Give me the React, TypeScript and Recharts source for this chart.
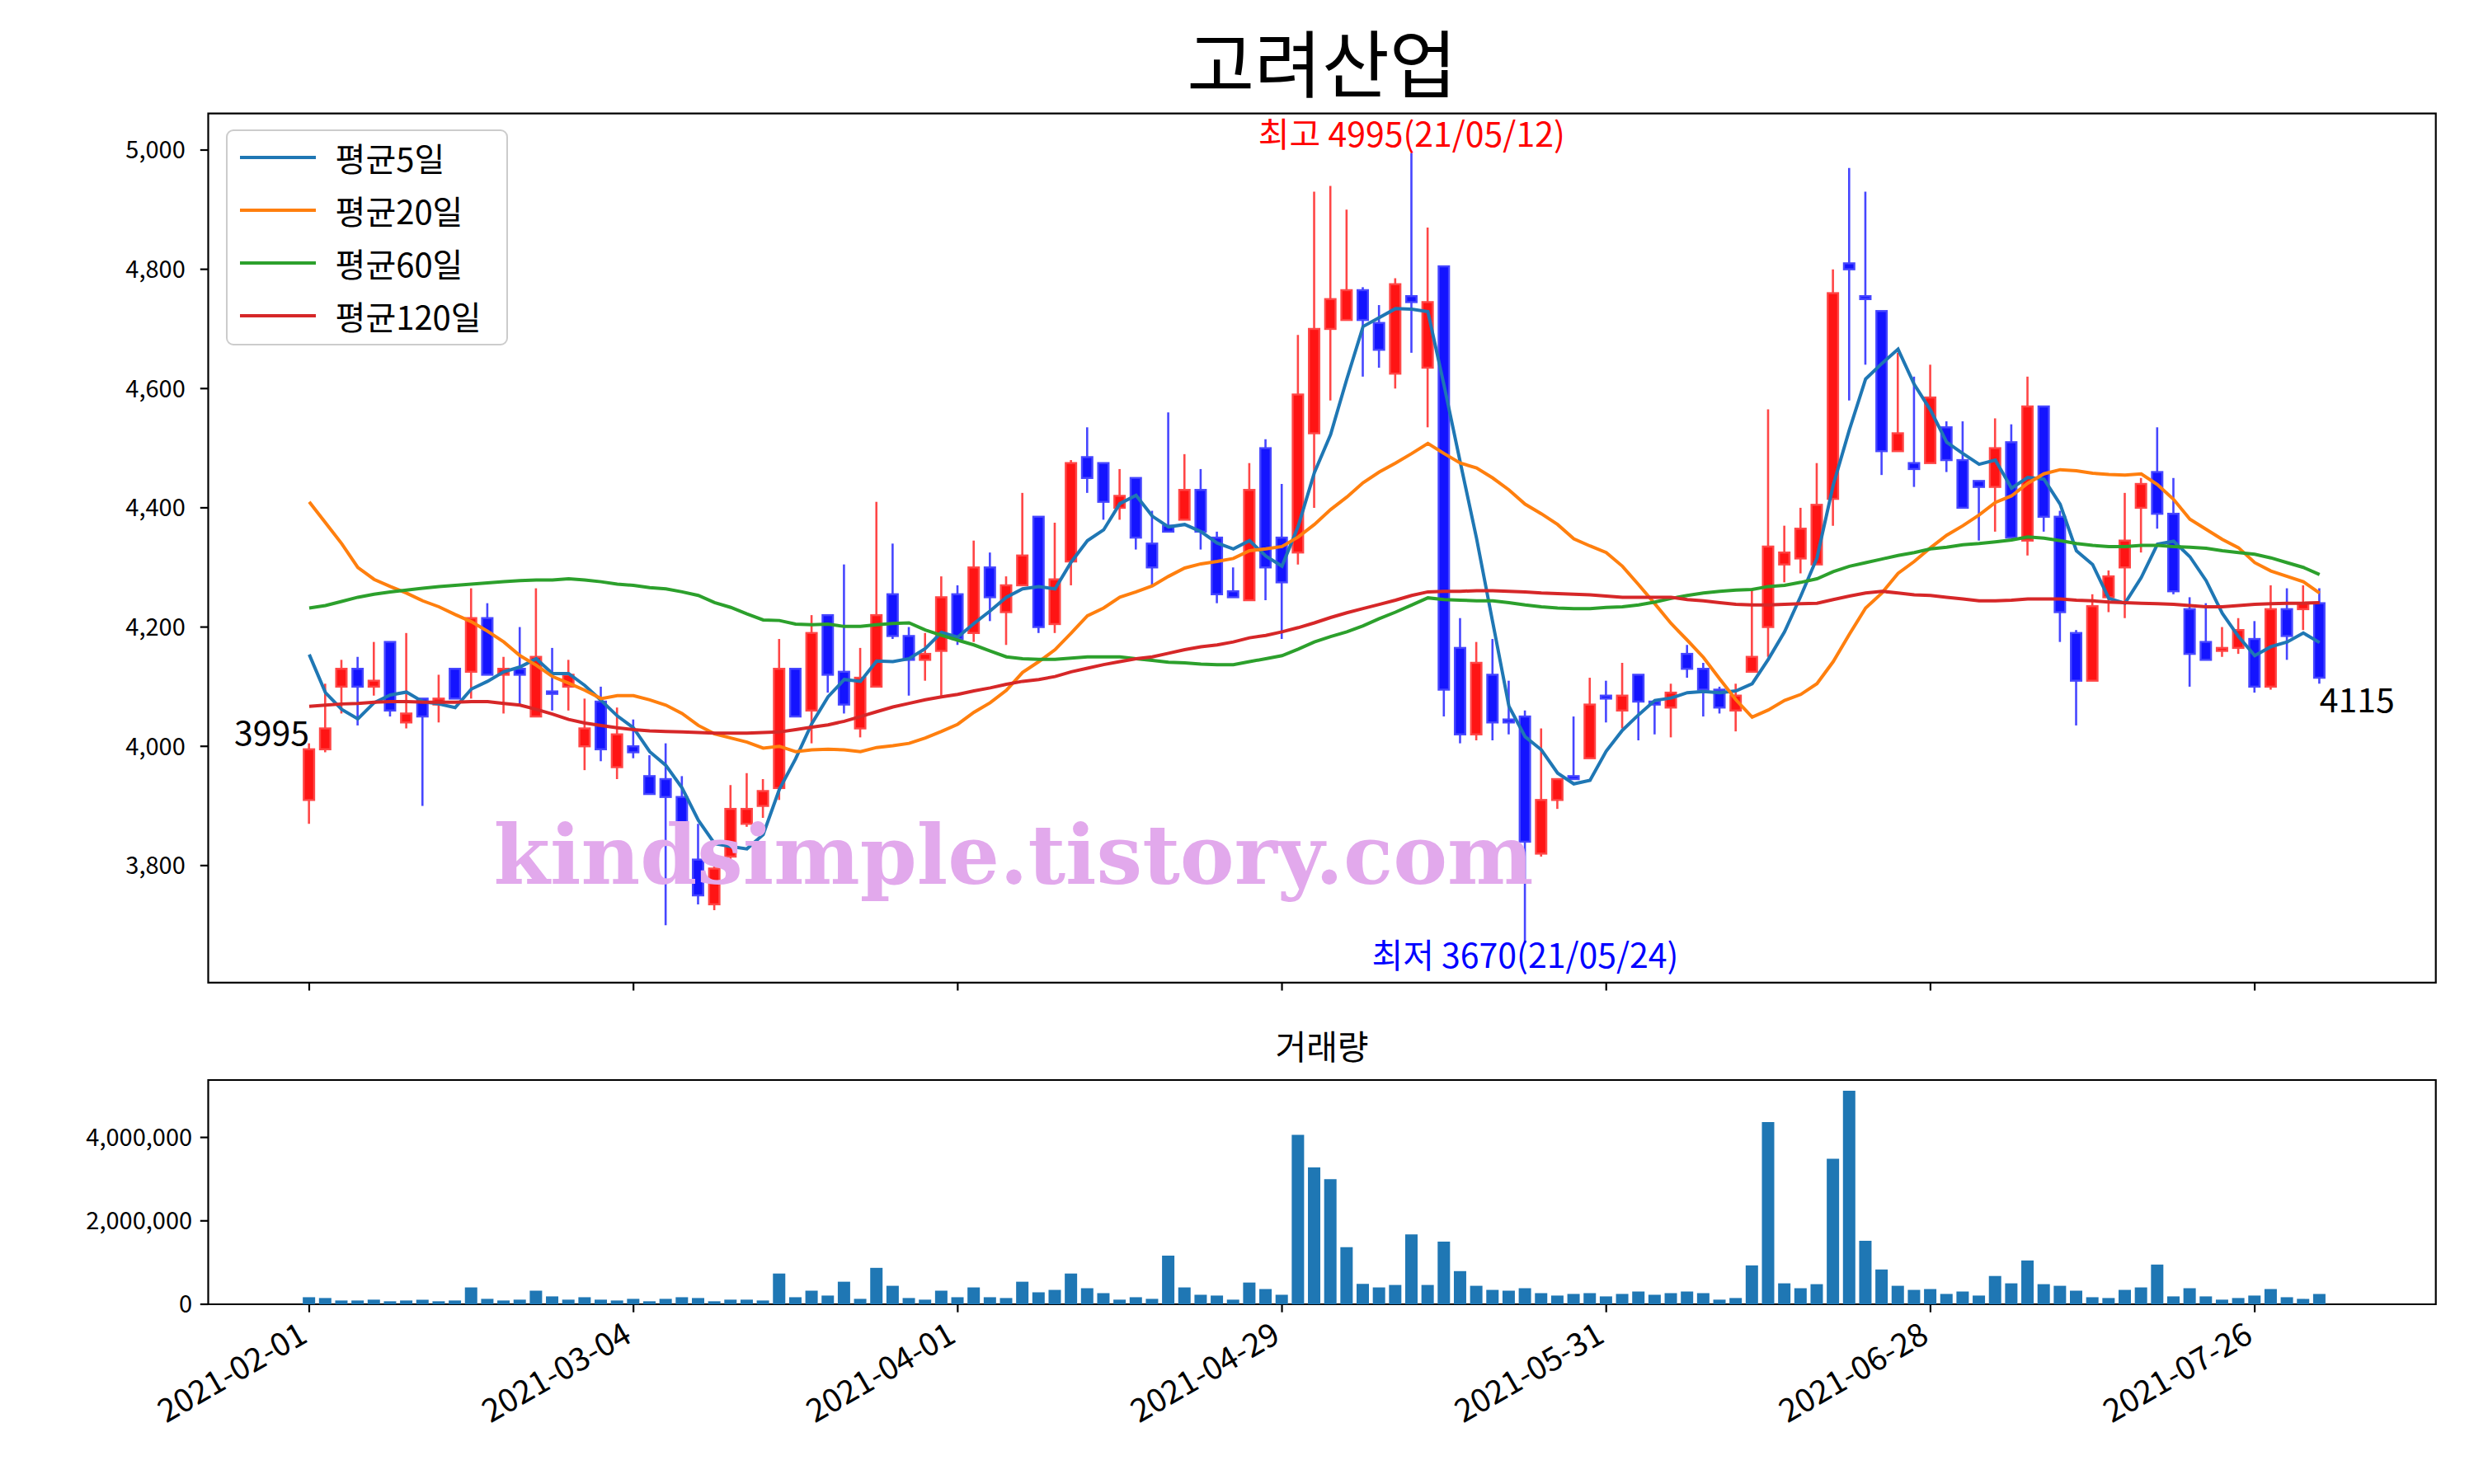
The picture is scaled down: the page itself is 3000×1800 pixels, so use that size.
import React from "react";
import {
  Bar,
  ComposedChart,
  Legend,
  Line,
  ReferenceArea,
  ReferenceDot,
  XAxis,
  YAxis,
} from "recharts";

// daily candles, 2021-02-01 .. 2021-07-30 (trading-day index on the x axis)
const openPrices = [
  3910, 3995, 4100, 4130, 4100, 4175, 4040, 4080, 4070, 4130,
  4125, 4215, 4120, 4130, 4050, 4090, 4100, 4000, 4075, 3965,
  4000, 3950, 3945, 3915, 3810, 3735, 3815, 3870, 3900, 3930,
  4130, 4060, 4220, 4125, 4030, 4100, 4255, 4185, 4145, 4160,
  4255, 4190, 4300, 4225, 4270, 4385, 4205, 4310, 4485, 4475,
  4400, 4450, 4340, 4370, 4380, 4430, 4350, 4260, 4245, 4500,
  4350, 4325, 4525, 4700, 4715, 4765, 4710, 4625, 4755, 4635,
  4805, 4165, 4020, 4120, 4045, 4050, 3820, 3910, 3950, 3980,
  4085, 4060, 4120, 4075, 4065, 4155, 4130, 4095, 4060, 4125,
  4200, 4305, 4315, 4305, 4415, 4810, 4755, 4730, 4495, 4475,
  4475, 4535, 4480, 4445, 4435, 4510, 4345, 4570, 4385, 4190,
  4110, 4250, 4300, 4400, 4460, 4390, 4230, 4175, 4160, 4165,
  4180, 4100, 4230, 4230, 4240,
];
const highPrices = [
  4005, 4105, 4145, 4150, 4175, 4175, 4190, 4080, 4120, 4130,
  4265, 4240, 4150, 4200, 4265, 4165, 4145, 4080, 4100, 4065,
  4045, 3985, 4005, 3950, 3870, 3800, 3935, 3955, 3945, 4180,
  4130, 4220, 4220, 4305, 4165, 4410, 4340, 4200, 4190, 4285,
  4270, 4345, 4325, 4285, 4425, 4385, 4375, 4480, 4535, 4475,
  4465, 4450, 4395, 4560, 4490, 4465, 4360, 4300, 4475, 4515,
  4440, 4690, 4930, 4940, 4900, 4770, 4740, 4785, 4995, 4870,
  4805, 4215, 4175, 4180, 4110, 4060, 4030, 3945, 4050, 4115,
  4110, 4140, 4120, 4075, 4105, 4170, 4140, 4100, 4105, 4265,
  4565, 4370, 4400, 4475, 4800, 4970, 4930, 4730, 4660, 4620,
  4640, 4545, 4545, 4445, 4550, 4540, 4620, 4570, 4395, 4195,
  4255, 4295, 4425, 4450, 4535, 4450, 4250, 4240, 4200, 4215,
  4210, 4270, 4265, 4270, 4265,
];
const lowPrices = [
  3870, 3990, 4055, 4035, 4085, 4050, 4030, 3900, 4040, 4080,
  4080, 4120, 4055, 4070, 4050, 4060, 4060, 3960, 3975, 3945,
  3980, 3920, 3700, 3770, 3735, 3725, 3810, 3865, 3880, 3910,
  4050, 4005, 4090, 4055, 4015, 4100, 4180, 4085, 4110, 4085,
  4170, 4175, 4210, 4170, 4270, 4190, 4190, 4270, 4425, 4380,
  4380, 4330, 4270, 4360, 4380, 4330, 4240, 4250, 4245, 4245,
  4180, 4305, 4400, 4580, 4715, 4620, 4635, 4600, 4660, 4535,
  4050, 4005, 4010, 4010, 4020, 3670, 3815, 3895, 3945, 3980,
  4040, 4030, 4010, 4020, 4015, 4115, 4050, 4055, 4025, 4125,
  4150, 4275, 4290, 4305, 4370, 4580, 4640, 4455, 4495, 4435,
  4475, 4460, 4400, 4345, 4360, 4350, 4320, 4360, 4175, 4035,
  4110, 4225, 4215, 4325, 4365, 4255, 4100, 4145, 4150, 4155,
  4090, 4095, 4145, 4195, 4105,
];
const closePrices = [
  3995, 4030, 4130, 4100, 4110, 4060, 4055, 4050, 4080, 4080,
  4215, 4120, 4130, 4120, 4150, 4090, 4120, 4030, 3995, 4020,
  3990, 3920, 3915, 3805, 3750, 3795, 3895, 3895, 3925, 4130,
  4050, 4190, 4120, 4070, 4115, 4220, 4185, 4145, 4155, 4250,
  4180, 4300, 4250, 4270, 4320, 4200, 4280, 4475, 4450, 4410,
  4420, 4350, 4300, 4360, 4430, 4360, 4255, 4250, 4430, 4300,
  4275, 4590, 4700, 4750, 4765, 4715, 4665, 4775, 4745, 4745,
  4095, 4020, 4140, 4040, 4040, 3840, 3910, 3945, 3945, 4070,
  4080, 4085, 4075, 4070, 4090, 4130, 4095, 4065, 4085, 4150,
  4335, 4325, 4365, 4405, 4760, 4800, 4750, 4495, 4525, 4465,
  4585, 4480, 4400, 4435, 4500, 4350, 4570, 4385, 4225, 4110,
  4235, 4285, 4345, 4440, 4390, 4260, 4155, 4145, 4165, 4195,
  4100, 4230, 4185, 4240, 4115,
];
const volumes = [
  169000, 150000, 91000, 91000, 111000, 72000, 91000, 111000, 72000, 91000,
  404000, 130000, 91000, 111000, 326000, 189000, 111000, 169000, 111000, 91000,
  130000, 72000, 130000, 169000, 150000, 72000, 111000, 111000, 91000, 737000,
  169000, 326000, 209000, 541000, 130000, 873000, 443000, 150000, 111000, 326000,
  169000, 404000, 169000, 150000, 541000, 287000, 345000, 737000, 385000, 267000,
  111000, 169000, 130000, 1167000, 404000, 228000, 209000, 111000, 521000, 365000,
  228000, 4060000, 3280000, 3000000, 1370000, 489000, 404000, 463000, 1675000, 463000,
  1500000, 795000, 443000, 345000, 326000, 385000, 267000, 209000, 248000, 267000,
  189000, 248000, 306000, 228000, 267000, 306000, 267000, 111000, 150000, 932000,
  4370000, 502000, 385000, 482000, 3490000, 5120000, 1520000, 834000, 443000, 345000,
  365000, 248000, 306000, 209000, 678000, 502000, 1050000, 482000, 443000, 326000,
  169000, 150000, 345000, 404000, 952000, 189000, 385000, 189000, 111000, 150000,
  209000, 365000, 169000, 130000, 248000,
];

// moving averages as drawn (they include days before the visible range)
const ma5 = [
  4154, 4090, 4062, 4046, 4073, 4086, 4091, 4075, 4071, 4065,
  4096, 4109, 4125, 4133, 4147, 4122, 4122, 4102, 4077, 4051,
  4031, 3991, 3968, 3930, 3876, 3837, 3832, 3828, 3852, 3928,
  3979, 4038, 4083, 4112, 4109, 4143, 4142, 4147, 4164, 4191,
  4183, 4206, 4227, 4250, 4264, 4268, 4264, 4309, 4345, 4363,
  4407, 4421, 4386, 4368, 4372, 4360, 4341, 4331, 4345, 4319,
  4302, 4369, 4459, 4523, 4616, 4704, 4719, 4734, 4733, 4729,
  4605, 4476, 4349, 4208, 4067, 4016, 3994, 3955, 3937, 3943,
  3992, 4027, 4053, 4077, 4081, 4090, 4092, 4090, 4093, 4105,
  4146, 4192, 4252, 4316, 4438, 4531, 4616, 4642, 4666, 4607,
  4564, 4510, 4491, 4473, 4480, 4433, 4451, 4448, 4406, 4328,
  4305, 4248, 4240, 4283, 4339, 4344, 4318, 4278, 4223, 4184,
  4152, 4167, 4175, 4190, 4174,
];
const ma20 = [
  4410, 4375, 4340, 4300, 4280, 4268, 4257, 4244, 4234, 4221,
  4209, 4193, 4175, 4152, 4136, 4117, 4106, 4094, 4080, 4085,
  4085, 4078, 4069, 4055, 4035, 4021, 4014, 4007, 3997, 4000,
  3991, 3994, 3995, 3994, 3991, 3998, 4001, 4005, 4014, 4025,
  4037, 4057, 4073, 4094, 4124, 4142, 4162, 4190, 4219, 4232,
  4250, 4259, 4269, 4285, 4299, 4306, 4310, 4315, 4328, 4331,
  4335, 4351, 4372, 4397, 4418, 4442, 4460, 4475, 4491, 4508,
  4491, 4475, 4467, 4450, 4430, 4406, 4390, 4372, 4348, 4336,
  4325, 4302, 4271, 4239, 4206, 4178, 4149, 4113, 4078, 4049,
  4061, 4077, 4087, 4105, 4142, 4188, 4232, 4257, 4290, 4310,
  4333, 4354, 4370, 4388, 4409, 4420, 4441, 4457, 4464, 4462,
  4458, 4456, 4455, 4457, 4439, 4414, 4381, 4364, 4347, 4333,
  4308, 4294, 4285, 4276, 4257,
];
const ma60 = [
  4232, 4236, 4243, 4250, 4255, 4259, 4262, 4265, 4268, 4270,
  4272, 4274, 4276, 4278, 4279, 4279, 4281, 4279, 4276, 4272,
  4270, 4266, 4264, 4259, 4253, 4241, 4233, 4222, 4212, 4211,
  4205, 4204, 4205, 4201, 4201, 4204, 4206, 4207, 4195, 4186,
  4178, 4170, 4160, 4150, 4147, 4146, 4146, 4148, 4150, 4150,
  4150, 4147, 4144, 4141, 4140, 4138, 4137, 4137, 4142, 4147,
  4152, 4163, 4175, 4184, 4192, 4202, 4214, 4225, 4237, 4249,
  4246, 4245, 4244, 4244, 4241, 4237, 4234, 4232, 4231, 4231,
  4233, 4234, 4237, 4242, 4248, 4253, 4257, 4260, 4262, 4263,
  4268, 4270, 4275, 4281, 4293, 4302, 4308, 4314, 4320, 4325,
  4331, 4334, 4338, 4340, 4343, 4346, 4351, 4349, 4345, 4340,
  4337, 4335, 4335, 4337, 4337, 4335, 4334, 4332, 4328, 4325,
  4322, 4316, 4308, 4300, 4288,
];
const ma120 = [
  4067, 4069, 4071, 4072, 4074, 4075, 4075, 4074, 4074, 4074,
  4075, 4075, 4072, 4069, 4062, 4054, 4045, 4039, 4035, 4031,
  4028, 4026, 4025, 4024, 4023, 4022, 4022, 4022, 4023, 4024,
  4028, 4032, 4036, 4042, 4050, 4058, 4066, 4072, 4078, 4083,
  4087, 4093, 4098, 4104, 4109, 4112, 4117, 4125, 4131, 4137,
  4142, 4147, 4150, 4156, 4162, 4167, 4170, 4175, 4182, 4186,
  4192, 4199, 4207, 4216, 4224, 4231, 4238, 4245, 4253, 4259,
  4260, 4260, 4261, 4261, 4260, 4259, 4257, 4256, 4255, 4254,
  4252, 4250, 4250, 4250, 4250, 4246, 4244, 4241, 4238, 4237,
  4237, 4238, 4239, 4240, 4246, 4252, 4257, 4260, 4257, 4254,
  4253, 4250, 4247, 4244, 4244, 4245, 4247, 4247, 4247, 4245,
  4244, 4242, 4241, 4240, 4239, 4238, 4236, 4234, 4234, 4236,
  4238, 4239, 4240, 4240, 4241,
];

const tickIndex = [0, 20, 40, 60, 80, 100, 120];
const tickDates = ["2021-02-01", "2021-03-04", "2021-04-01", "2021-04-29", "2021-05-31", "2021-06-28", "2021-07-26"];
const priceTicks = [3800, 4000, 4200, 4400, 4600, 4800, 5000];
const volumeTicks = [0, 2000000, 4000000];

const maSeries = [
  { key: "ma5", name: "평균5일", color: "#1f77b4" },
  { key: "ma20", name: "평균20일", color: "#ff7f0e" },
  { key: "ma60", name: "평균60일", color: "#2ca02c" },
  { key: "ma120", name: "평균120일", color: "#d62728" },
];

const rows = closePrices.map((close, i) => ({
  i,
  open: openPrices[i],
  high: highPrices[i],
  low: lowPrices[i],
  close,
  vol: volumes[i],
  ma5: ma5[i],
  ma20: ma20[i],
  ma60: ma60[i],
  ma120: ma120[i],
}));

const FONT = "'Noto Sans CJK KR', 'Noto Sans', sans-serif";
const X_DOMAIN = [-6.23, 131.17];
const PRICE_DOMAIN = [3603.75, 5061.25];
const VOL_DOMAIN = [0, 5376000];
const TICK_LEN = 9.7;
const LINE_W = 2.2;
const FS = 29;
const NOTE_FS = 41;

const hiIdx = 68;
const loIdx = 75;
const lastIdx = closePrices.length - 1;

function Candle(props: any) {
  const { x, y, width, height, payload } = props;
  if (x == null || !payload) return null;
  const top = Math.min(y, y + height);
  const bottom = Math.max(y, y + height);
  const { open, close, high, low } = payload;
  const span = high - low || 1;
  const toY = (v: number) => bottom - ((v - low) / span) * (bottom - top);
  const up = close > open;
  const fill = up ? "#ff1414" : "#1414ff";
  const edge = up ? "#ff4646" : "#4646ff";
  const cx = x + width / 2;
  let bTop = toY(Math.max(open, close));
  let bBot = toY(Math.min(open, close));
  if (bBot - bTop < 3) {
    const m = (bTop + bBot) / 2;
    bTop = m - 1.5;
    bBot = m + 1.5;
  }
  return (
    <g>
      <line x1={cx} x2={cx} y1={top} y2={bottom} stroke={edge} strokeWidth={2.6} />
      <rect x={x + 1.2} y={bTop} width={width - 2.4} height={bBot - bTop} fill={fill} stroke={edge} strokeWidth={2.4} />
    </g>
  );
}

function LegendBox(props: any) {
  const payload = props.payload || [];
  const items = maSeries
    .map((s) => payload.find((p: any) => p.value === s.name))
    .filter(Boolean);
  return (
    <div
      style={{
        boxSizing: "border-box",
        width: 342,
        height: 262,
        border: "2.2px solid #cccccc",
        borderRadius: 9,
        background: "rgba(255,255,255,0.8)",
      }}
    >
      {items.map((item: any) => (
        <div key={item.value} style={{ display: "flex", alignItems: "center", height: 64 }}>
          <div style={{ marginLeft: 15, width: 92, height: 4.2, background: item.color }} />
          <div style={{ marginLeft: 24, fontSize: 40, fontFamily: FONT, color: "#000", lineHeight: 1 }}>{item.value}</div>
        </div>
      ))}
    </div>
  );
}

function DateTick(props: any) {
  const { x, y, payload } = props;
  const label = tickDates[tickIndex.indexOf(payload.value)] || "";
  return (
    <text transform={`translate(${x},${y + 25}) rotate(-30)`} textAnchor="end" fontSize={39} fill="#000" fontFamily={FONT}>
      {label}
    </text>
  );
}

const note = (text: string, color: string, anchor: string, dy: number) => (p: any) => {
  const vb = p.viewBox || {};
  const cx = vb.x + (vb.width || 0) / 2;
  const cy = vb.y + (vb.height || 0) / 2;
  return (
    <text x={cx} y={cy + dy} textAnchor={anchor} fontSize={NOTE_FS} fill={color} fontFamily={FONT}>
      {text}
    </text>
  );
};

const fmt = (v: number) => v.toLocaleString("en-US");

export default function App() {
  return (
    <div style={{ position: "absolute", left: 0, top: 0, width: 3000, height: 1800, background: "#fff", fontFamily: FONT }}>
      <div style={{ position: "absolute", left: 0, top: 0 }}>
        <ComposedChart width={3000} height={1250} data={rows} margin={{ top: 137.7, right: 46.3, bottom: 0, left: 0 }}>
          <XAxis
            type="number"
            dataKey="i"
            domain={X_DOMAIN}
            allowDataOverflow
            ticks={tickIndex}
            interval={0}
            height={58.2}
            axisLine={false}
            tickSize={TICK_LEN}
            tickLine={{ stroke: "#000", strokeWidth: LINE_W }}
            tickFormatter={() => ""}
          />
          <YAxis
            type="number"
            domain={PRICE_DOMAIN}
            allowDataOverflow
            ticks={priceTicks}
            interval={0}
            width={252.5}
            axisLine={false}
            tickSize={TICK_LEN}
            tickMargin={18}
            tickLine={{ stroke: "#000", strokeWidth: LINE_W }}
            tick={{ fontSize: FS, fill: "#000", fontFamily: FONT }}
            tickFormatter={fmt}
          />
          <Bar
            dataKey={(d: any) => [d.low, d.high]}
            barSize={15}
            shape={(p: any) => <Candle {...p} />}
            isAnimationActive={false}
            legendType="none"
          />
          {maSeries.map((s) => (
            <Line
              key={s.key}
              type="linear"
              dataKey={s.key}
              name={s.name}
              stroke={s.color}
              strokeWidth={4}
              dot={false}
              activeDot={false}
              isAnimationActive={false}
            />
          ))}
          <ReferenceArea
            x1={X_DOMAIN[0]}
            x2={X_DOMAIN[1]}
            y1={PRICE_DOMAIN[0]}
            y2={PRICE_DOMAIN[1]}
            fill="none"
            stroke="#000"
            strokeWidth={LINE_W}
            ifOverflow="visible"
          />
          <ReferenceDot x={hiIdx} y={highPrices[hiIdx]} r={1} fill="none" stroke="none"
            label={note(`최고 ${highPrices[hiIdx]}(21/05/12)`, "#ff0000", "middle", -8)} />
          <ReferenceDot x={loIdx} y={lowPrices[loIdx]} r={1} fill="none" stroke="none"
            label={note(`최저 ${lowPrices[loIdx]}(21/05/24)`, "#0000ff", "middle", 30)} />
          <ReferenceDot x={0} y={closePrices[0]} r={1} fill="none" stroke="none"
            label={note(`${closePrices[0]}`, "#000", "end", -5)} />
          <ReferenceDot x={lastIdx} y={closePrices[lastIdx]} r={1} fill="none" stroke="none"
            label={note(`${closePrices[lastIdx]}`, "#000", "start", 42)} />
          <Legend
            layout="vertical"
            align="center"
            verticalAlign="middle"
            content={(p: any) => <LegendBox {...p} />}
            wrapperStyle={{ left: 273.6, top: 157, width: 342, height: 262 }}
          />
        </ComposedChart>
      </div>
      <div style={{ position: "absolute", left: 0, top: 1250 }}>
        <ComposedChart width={3000} height={550} data={rows} margin={{ top: 60, right: 46.3, bottom: 0, left: 0 }}>
          <XAxis
            type="number"
            dataKey="i"
            domain={X_DOMAIN}
            allowDataOverflow
            ticks={tickIndex}
            interval={0}
            height={218}
            axisLine={false}
            tickSize={TICK_LEN}
            tickMargin={9.7}
            tickLine={{ stroke: "#000", strokeWidth: LINE_W }}
            tick={(p: any) => <DateTick {...p} />}
          />
          <YAxis
            type="number"
            domain={VOL_DOMAIN}
            allowDataOverflow
            ticks={volumeTicks}
            interval={0}
            width={252.5}
            axisLine={false}
            tickSize={TICK_LEN}
            tickMargin={9.7}
            tickLine={{ stroke: "#000", strokeWidth: LINE_W }}
            tick={{ fontSize: FS, fill: "#000", fontFamily: FONT }}
            tickFormatter={fmt}
          />
          <Bar dataKey="vol" barSize={15} fill="#1f77b4" isAnimationActive={false} />
          <ReferenceArea
            x1={X_DOMAIN[0]}
            x2={X_DOMAIN[1]}
            y1={VOL_DOMAIN[0]}
            y2={VOL_DOMAIN[1]}
            fill="none"
            stroke="#000"
            strokeWidth={LINE_W}
            ifOverflow="visible"
          />
        </ComposedChart>
      </div>
      <svg width={3000} height={1800} style={{ position: "absolute", left: 0, top: 0, pointerEvents: "none" }}>
        <text x={1603} y={111} textAnchor="middle" fontSize={89} fill="#000" fontFamily={FONT}>고려산업</text>
        <text x={1603} y={1285} textAnchor="middle" fontSize={41} fill="#000" fontFamily={FONT}>거래량</text>
        <text
          x={1229}
          y={1072}
          textAnchor="middle"
          fontSize={100}
          fontWeight="bold"
          fontFamily="'DejaVu Serif', serif"
          fill="#e2a9ec"
          textLength={1261}
          lengthAdjust="spacingAndGlyphs"
        >
          kindsimple.tistory.com
        </text>
      </svg>
    </div>
  );
}
